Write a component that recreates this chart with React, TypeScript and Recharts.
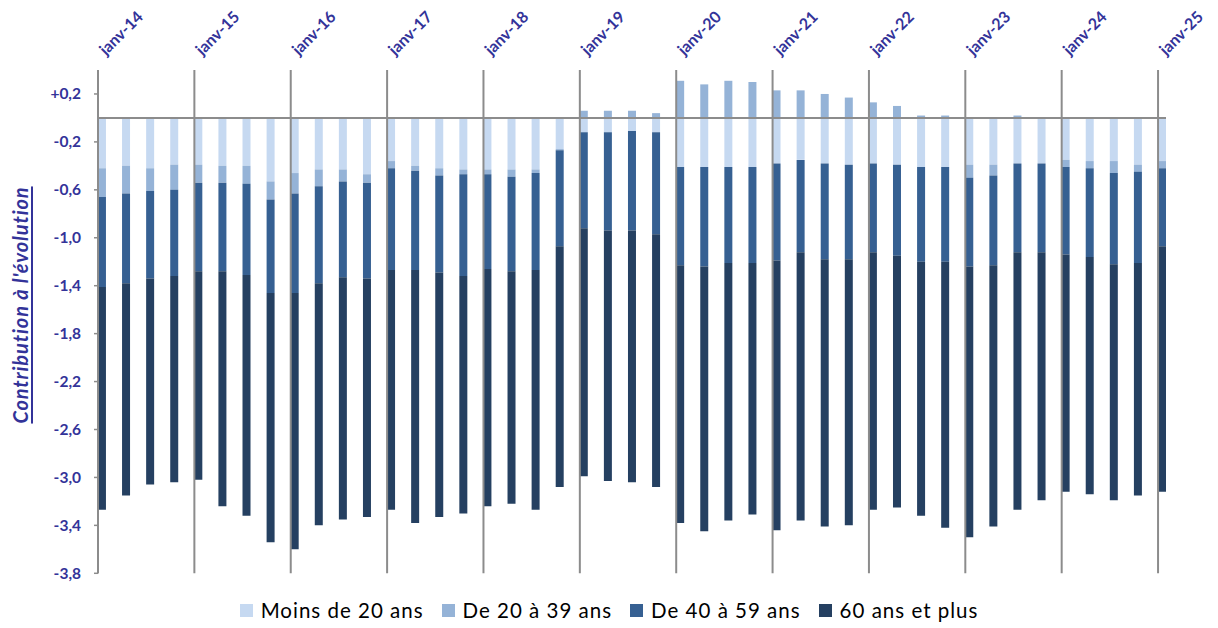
import React from 'react';
import { BarChart, Bar, XAxis, YAxis, ReferenceLine, Legend, Rectangle } from 'recharts';

// Quarters from janv-14 to janv-25
const years = ['14', '15', '16', '17', '18', '19', '20', '21', '22', '23', '24', '25'];
const months = ['janv', 'avr', 'juil', 'oct'];
const quarters: string[] = [];
years.forEach((y, yi) => {
  months.forEach((m) => {
    if (yi < years.length - 1 || m === 'janv') quarters.push(`${m}-${y}`);
  });
});

const moins20 = [
  -0.42, -0.40, -0.42, -0.39, -0.39, -0.40, -0.40, -0.53, -0.46, -0.43, -0.43, -0.47,
  -0.36, -0.40, -0.42, -0.43, -0.43, -0.43, -0.43, -0.26, -0.12, -0.12, -0.11, -0.12,
  -0.41, -0.41, -0.41, -0.41, -0.38, -0.35, -0.38, -0.39, -0.38, -0.39, -0.41, -0.41,
  -0.39, -0.39, -0.38, -0.38, -0.35, -0.36, -0.36, -0.39, -0.36,
];
const de20a39 = [
  -0.24, -0.23, -0.19, -0.21, -0.15, -0.14, -0.15, -0.15, -0.17, -0.14, -0.10, -0.07,
  -0.06, -0.04, -0.06, -0.04, -0.04, -0.06, -0.03, -0.01, 0.06, 0.06, 0.06, 0.04,
  0.31, 0.28, 0.31, 0.30, 0.23, 0.23, 0.20, 0.17, 0.13, 0.10, 0.02, 0.02,
  -0.11, -0.09, 0.02, 0.0, -0.06, -0.06, -0.10, -0.06, -0.06,
];
const de40a59 = [
  -0.75, -0.75, -0.73, -0.72, -0.74, -0.74, -0.76, -0.78, -0.83, -0.81, -0.80, -0.80,
  -0.85, -0.83, -0.81, -0.85, -0.79, -0.79, -0.81, -0.80, -0.80, -0.82, -0.83, -0.85,
  -0.82, -0.83, -0.80, -0.80, -0.81, -0.77, -0.80, -0.79, -0.74, -0.76, -0.79, -0.79,
  -0.74, -0.75, -0.74, -0.74, -0.73, -0.74, -0.76, -0.76, -0.65,
];
const plus60 = [
  -1.86, -1.77, -1.72, -1.72, -1.74, -1.96, -2.01, -2.08, -2.14, -2.02, -2.02, -1.99,
  -2.00, -2.11, -2.04, -1.98, -1.98, -1.94, -2.00, -2.01, -2.07, -2.09, -2.10, -2.11,
  -2.15, -2.21, -2.15, -2.10, -2.25, -2.24, -2.23, -2.22, -2.15, -2.10, -2.12, -2.22,
  -2.26, -2.18, -2.15, -2.07, -1.98, -1.98, -1.97, -1.94, -2.05,
];

const yTicks = [-3.8, -3.4, -3.0, -2.6, -2.2, -1.8, -1.4, -1.0, -0.6, -0.2, 0.2];
const yearLabels = years.map((y) => `janv-${y}`);
const yearTicks = yearLabels.map((l) => quarters.indexOf(l));

const seriesDefs = [
  { key: 'moins20', name: 'Moins de 20 ans', color: '#C6D9F1' },
  { key: 'de20a39', name: 'De 20 à 39 ans', color: '#95B3D7' },
  { key: 'de40a59', name: 'De 40 à 59 ans', color: '#366092' },
  { key: 'plus60', name: '60 ans et plus', color: '#254061' },
];

const data = quarters.map((q, i) => ({
  idx: i,
  label: q,
  moins20: moins20[i],
  de20a39: de20a39[i],
  de40a59: de40a59[i],
  plus60: plus60[i],
}));

const AXIS_BLUE = '#333399';
const GRID_GREY = '#8C8C8C';
const FONT = 'Lato, "Open Sans", sans-serif';

const YearTick = (props: any) => {
  const { x, payload } = props;
  const label = quarters[payload.value];
  const tx = x + 8;
  const ty = 56;
  return (
    <text
      x={tx}
      y={ty}
      transform={`rotate(-45 ${tx} ${ty})`}
      textAnchor="start"
      fill={AXIS_BLUE}
      fontFamily={FONT}
      fontWeight="bold"
      fontSize={16}
    >
      {label}
    </text>
  );
};

const fmtY = (v: number) => {
  const s = Math.abs(v).toFixed(1).replace('.', ',');
  return v > 0 ? `+${s}` : `-${s}`;
};

const ShiftedBar = (props: any) => {
  const { x, width } = props;
  return <Rectangle {...props} x={x + width / 2} />;
};

const LegendContent = () => (
  <div
    style={{
      display: 'flex',
      justifyContent: 'center',
      alignItems: 'center',
      height: 30,
      fontFamily: FONT,
      fontSize: 20.5,
      letterSpacing: 1,
      color: '#000',
      gap: 18,
    }}
  >
    {seriesDefs.map((s) => (
      <div key={s.key} style={{ display: 'flex', alignItems: 'center' }}>
        <span style={{ display: 'inline-block', width: 13, height: 13, background: s.color, marginRight: 8 }} />
        <span>{s.name}</span>
      </div>
    ))}
  </div>
);

const YLabel = () => {
  const cx = 20;
  const cy = 305;
  return (
    <text
      x={cx}
      y={cy}
      transform={`rotate(-90 ${cx} ${cy})`}
      textAnchor="middle"
      dominantBaseline="central"
      fill={AXIS_BLUE}
      fontFamily={FONT}
      fontWeight="bold"
      fontStyle="italic"
      fontSize={20}
      letterSpacing={0.9}
      textDecoration="underline"
    >
      Contribution à l'évolution
    </text>
  );
};

export default function App() {
  return (
    <div style={{ position: 'absolute', left: 0, top: 0, width: 1218, height: 628, background: '#fff' }}>
      <BarChart
        width={1218}
        height={628}
        data={data}
        stackOffset="sign"
        barSize={8}
        margin={{ top: 0, right: 52, bottom: 24.7, left: 0 }}
      >
        <XAxis
          type="number"
          dataKey="idx"
          orientation="top"
          domain={[0, 44.33]}
          ticks={yearTicks}
          interval={0}
          height={70}
          axisLine={false}
          tickLine={false}
          tick={<YearTick />}
        />
        <YAxis
          type="number"
          domain={[-3.8, 0.4]}
          ticks={yTicks}
          interval={0}
          width={98}
          tickFormatter={fmtY}
          tickSize={4}
          tickMargin={13}
          axisLine={{ stroke: GRID_GREY, strokeWidth: 2 }}
          tickLine={{ stroke: GRID_GREY, strokeWidth: 1.5 }}
          tick={{ fill: AXIS_BLUE, fontFamily: FONT, fontWeight: 'bold', fontSize: 15.5 }}
          label={<YLabel />}
        />
        {yearTicks.map((t) => (
          <ReferenceLine key={`g${t}`} x={t} stroke={GRID_GREY} strokeWidth={2} />
        ))}
        {seriesDefs.map((s) => (
          <Bar
            key={s.key}
            dataKey={s.key}
            name={s.name}
            stackId="a"
            fill={s.color}
            isAnimationActive={false}
            shape={<ShiftedBar />}
          />
        ))}
        <ReferenceLine y={0} stroke={GRID_GREY} strokeWidth={2} />
        <Legend content={<LegendContent />} wrapperStyle={{ left: 0, width: 1218, bottom: 3 }} />
      </BarChart>
    </div>
  );
}
